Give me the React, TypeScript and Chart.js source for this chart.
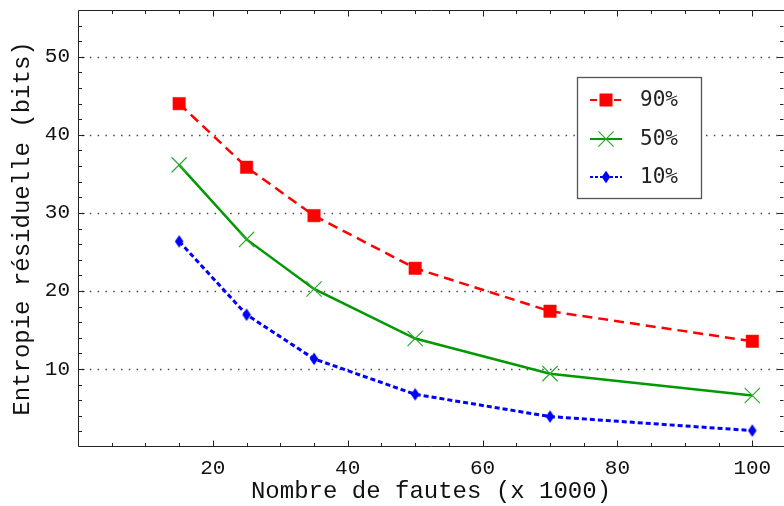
import React, { useEffect, useRef } from 'react';
import { Chart, registerables } from 'chart.js';
import { drawPoint } from 'chart.js/helpers';

Chart.register(...registerables);

// ---- data ----
const faults = [15, 25, 35, 50, 70, 100];
const series90 = [44.0, 35.85, 29.65, 22.9, 17.4, 13.55];
const series50 = [36.15, 26.6, 20.25, 13.9, 9.4, 6.6];
const series10 = [26.35, 16.95, 11.3, 6.75, 3.9, 2.1];
const seriesLabels = ['90%', '50%', '10%'];
const xMajorTicks = [20, 40, 60, 80, 100];
const xMinorTicks = [5, 10, 15, 25, 30, 35, 45, 50, 55, 65, 70, 75, 85, 90, 95];
const yMajorTicks = [10, 20, 30, 40, 50];
const yMinorTicks = [2, 4, 6, 8, 12, 14, 16, 18, 22, 24, 26, 28, 32, 34, 36, 38, 42, 44, 46, 48, 52, 54];
const xTitle = 'Nombre de fautes (x 1000)';
const yTitle = 'Entropie résiduelle (bits)';

const MONO = '"Liberation Mono", "DejaVu Sans Mono", monospace';

function makeDiamond(color: string): HTMLCanvasElement {
  const c = document.createElement('canvas');
  c.width = 10;
  c.height = 14;
  const g = c.getContext('2d')!;
  g.fillStyle = color;
  g.beginPath();
  g.moveTo(5, 0.8);
  g.lineTo(9.3, 7);
  g.lineTo(5, 13.2);
  g.lineTo(0.7, 7);
  g.closePath();
  g.fill();
  return c;
}

const framePlugin = {
  id: 'mmaFrame',
  beforeDatasetsDraw(chart: any) {
    const { ctx, chartArea } = chart;
    const ys = chart.scales.y;
    ctx.save();
    ctx.strokeStyle = 'rgba(40,40,40,0.85)';
    ctx.lineWidth = 1.5;
    ctx.setLineDash([1.5, 6.3]);
    for (const v of yMajorTicks) {
      const y = Math.round(ys.getPixelForValue(v)) + 0.5;
      ctx.beginPath();
      ctx.moveTo(chartArea.left + 4, y);
      ctx.lineTo(chartArea.right, y);
      ctx.stroke();
    }
    ctx.restore();
  },
  afterDatasetsDraw(chart: any) {
    const { ctx, chartArea } = chart;
    const { left, right, top, bottom } = chartArea;
    const xs = chart.scales.x;
    const ys = chart.scales.y;
    ctx.save();
    ctx.strokeStyle = '#222';
    ctx.lineWidth = 1;
    ctx.setLineDash([]);
    const L = left + 0.5, R = right + 0.5, T = top + 0.5, B = bottom - 0.5;
    ctx.beginPath();
    ctx.moveTo(L, T); ctx.lineTo(R, T); ctx.lineTo(R, B); ctx.lineTo(L, B); ctx.closePath();
    ctx.stroke();
    const xTick = (v: number, len: number) => {
      const x = Math.round(xs.getPixelForValue(v)) + 0.5;
      ctx.beginPath();
      ctx.moveTo(x, B); ctx.lineTo(x, B - len);
      ctx.moveTo(x, T); ctx.lineTo(x, T + len);
      ctx.stroke();
    };
    const yTick = (v: number, len: number) => {
      const y = Math.round(ys.getPixelForValue(v)) + 0.5;
      ctx.beginPath();
      ctx.moveTo(L, y); ctx.lineTo(L + len, y);
      ctx.moveTo(R - 1, y); ctx.lineTo(R - 1 - len, y);
      ctx.stroke();
    };
    xMajorTicks.forEach((v) => xTick(v, 6));
    xMinorTicks.forEach((v) => xTick(v, 3.5));
    yMajorTicks.forEach((v) => yTick(v, 6));
    yMinorTicks.forEach((v) => yTick(v, 3.5));

    // inset legend
    const bx = 577, by = 77, bw = 124, bh = 121;
    ctx.fillStyle = '#ffffff';
    ctx.fillRect(bx, by, bw, bh);
    ctx.strokeStyle = '#555';
    ctx.lineWidth = 1.3;
    ctx.strokeRect(bx + 0.5, by + 0.5, bw, bh);
    const rows = [100, 139, 177];
    chart.data.datasets.forEach((ds: any, i: number) => {
      const y = rows[i];
      ctx.save();
      ctx.strokeStyle = ds.borderColor;
      ctx.lineWidth = 2;
      ctx.setLineDash(ds.legendDash || []);
      ctx.beginPath();
      ctx.moveTo(590, y);
      ctx.lineTo(622, y);
      ctx.stroke();
      ctx.setLineDash([]);
      ctx.fillStyle = ds.pointBackgroundColor;
      ctx.strokeStyle = ds.pointBorderColor;
      ctx.lineWidth = ds.pointBorderWidth;
      drawPoint(ctx, { pointStyle: ds.pointStyle, radius: ds.pointRadius, rotation: 0, borderWidth: ds.pointBorderWidth } as any, 606, y);
      ctx.restore();
      ctx.fillStyle = '#222';
      ctx.font = '21px "DejaVu Sans Mono", monospace';
      ctx.textBaseline = 'middle';
      ctx.textAlign = 'left';
      ctx.fillText(ds.label, 640, y + 1);
    });
    ctx.restore();
  },
};

export default function App() {
  const ref = useRef<HTMLCanvasElement | null>(null);
  useEffect(() => {
    if (!ref.current) return;
    const diamond = makeDiamond('#0000ff');
    const pts = (ys: number[]) => faults.map((x, i) => ({ x, y: ys[i] }));
    const chart = new Chart(ref.current, {
      type: 'line',
      data: {
        datasets: [
          {
            label: seriesLabels[0],
            data: pts(series90),
            borderColor: '#ff0000',
            borderWidth: 2.5,
            borderDash: [10, 6],
            legendDash: [7, 5],
            pointStyle: 'rect',
            pointRadius: 8.8,
            pointBorderWidth: 0.5,
            pointBackgroundColor: '#ff0000',
            pointBorderColor: '#ff0000',
            fill: false,
            tension: 0,
          } as any,
          {
            label: seriesLabels[1],
            data: pts(series50),
            borderColor: '#009900',
            borderWidth: 2.5,
            pointStyle: 'crossRot',
            pointRadius: 10.8,
            pointBorderWidth: 1.2,
            pointBackgroundColor: '#2ea82e',
            pointBorderColor: '#2ea82e',
            fill: false,
            tension: 0,
          } as any,
          {
            label: seriesLabels[2],
            data: pts(series10),
            borderColor: '#0000ff',
            borderWidth: 3,
            borderDash: [5, 3],
            legendDash: [3, 2],
            pointStyle: diamond,
            pointRadius: 6,
            pointBorderWidth: 0,
            pointBackgroundColor: '#0000ff',
            pointBorderColor: '#0000ff',
            fill: false,
            tension: 0,
          } as any,
        ],
      },
      options: {
        animation: false,
        responsive: false,
        devicePixelRatio: 1,
        layout: { autoPadding: false, padding: { left: 0, right: 0, top: 10, bottom: 0 } },
        plugins: { legend: { display: false }, tooltip: { enabled: false } },
        scales: {
          x: {
            type: 'linear',
            min: 0,
            max: 104.7,
            afterBuildTicks: (s: any) => { s.ticks = xMajorTicks.map((v) => ({ value: v })); },
            afterFit: (s: any) => { s.height = 59; s.paddingLeft = 0; s.paddingRight = 0; s.paddingTop = 0; s.paddingBottom = 0; },
            grid: { display: false, drawTicks: false, drawOnChartArea: false },
            border: { display: false },
            ticks: { font: { family: MONO, size: 21 }, color: '#111', padding: 9, maxRotation: 0, autoSkip: false },
            title: { display: true, text: xTitle, font: { family: MONO, size: 24 }, color: '#111', padding: { top: 0, bottom: 0 } },
          },
          y: {
            type: 'linear',
            min: 0,
            max: 56,
            afterBuildTicks: (s: any) => { s.ticks = yMajorTicks.map((v) => ({ value: v })); },
            afterFit: (s: any) => { s.width = 78; s.paddingLeft = 0; s.paddingRight = 0; s.paddingTop = 0; s.paddingBottom = 0; },
            grid: { display: false, drawTicks: false, drawOnChartArea: false },
            border: { display: false },
            ticks: { font: { family: MONO, size: 21 }, color: '#111', padding: 8, autoSkip: false },
            title: { display: true, text: yTitle, font: { family: MONO, size: 24 }, color: '#111', padding: { top: 8, bottom: 0 } },
          },
        },
      } as any,
      plugins: [framePlugin],
    });
    return () => chart.destroy();
  }, []);
  return (
    <div style={{ position: 'fixed', left: 0, top: 0, width: 784, height: 506, background: '#fff' }}>
      <canvas ref={ref} width={784} height={506} style={{ display: 'block' }} />
    </div>
  );
}
